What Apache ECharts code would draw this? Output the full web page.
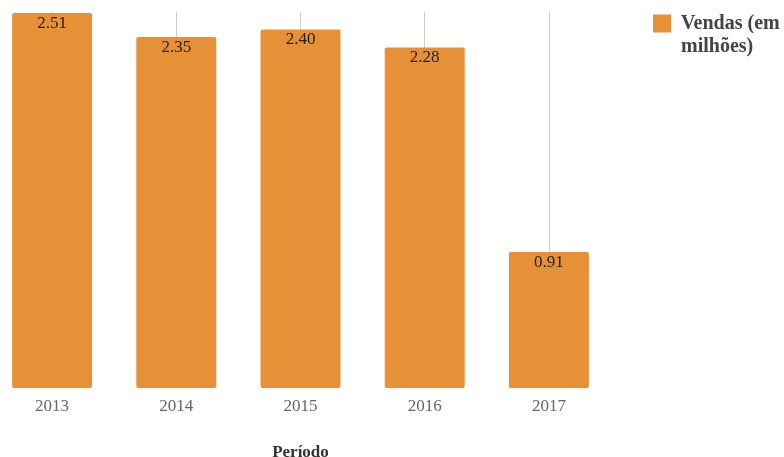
<!DOCTYPE html>
<html><head><meta charset="utf-8">
<script src="https://cdn.jsdelivr.net/npm/echarts@6/dist/echarts.min.js"></script>
<style>html,body{margin:0;padding:0;background:#fff}#c{width:784px;height:457px}</style>
</head><body><div id="c"></div>
<script>
const categories = ['2013', '2014', '2015', '2016', '2017'];
const vendas = [2.51, 2.35, 2.40, 2.28, 0.91];
const seriesName = 'Vendas (em\nmilhões)';
const xTitle = 'Período';

const FONT = "'Liberation Serif', 'Times New Roman', serif";
const chart = echarts.init(document.getElementById('c'));
chart.setOption({
  animation: false,
  textStyle: { fontFamily: FONT },
  grid: { left: -10, right: 173, top: 12, bottom: 69, containLabel: false, outerBoundsMode: 'none' },
  legend: {
    left: 648, top: -16, orient: 'vertical', padding: 5,
    itemWidth: 18, itemHeight: 18, itemGap: 8,
    icon: 'rect',
    formatter: name => '\n ' + name.split('\n').join('\n '),
    textStyle: { fontFamily: FONT, fontWeight: 'bold', fontSize: 20, color: '#444', lineHeight: 23 },
    data: [seriesName]
  },
  xAxis: {
    type: 'category', data: categories,
    axisLine: { show: false }, axisTick: { show: false },
    axisLabel: { color: '#666', fontSize: 17, fontFamily: FONT, margin: 10 },
    splitLine: { show: true, alignWithLabel: true, lineStyle: { color: '#cccccc', width: 1 } },
    name: xTitle, nameLocation: 'middle', nameGap: 56,
    nameTextStyle: { fontFamily: FONT, fontWeight: 'bold', fontSize: 17, color: '#333' }
  },
  yAxis: {
    type: 'value', min: 0, max: 2.517, show: false,
    splitLine: { show: false }
  },
  series: [{
    name: seriesName, type: 'bar', data: vendas,
    barWidth: 80,
    itemStyle: { color: '#E69138', borderRadius: 2 },
    label: {
      show: true, position: 'insideTop', distance: 2,
      formatter: p => p.value.toFixed(2),
      color: '#222', fontSize: 17, fontFamily: FONT
    }
  }]
});
</script></body></html>
